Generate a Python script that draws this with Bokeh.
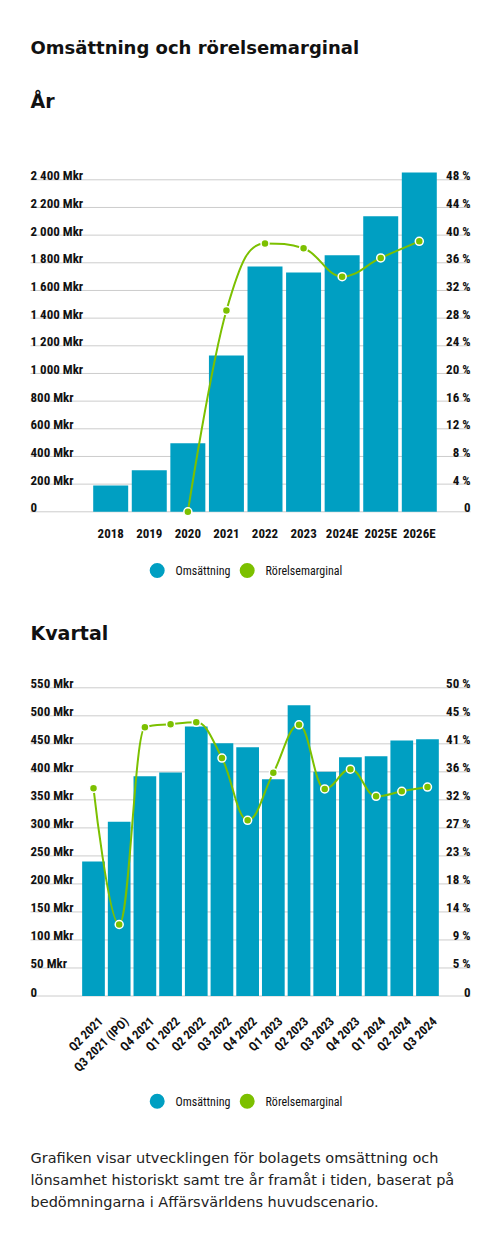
import math

from bokeh.core.properties import value
from bokeh.embed import file_html
from bokeh.models import Range1d
from bokeh.plotting import figure
from bokeh.resources import INLINE

# ---------------------------------------------------------------- data
years = ["2018", "2019", "2020", "2021", "2022", "2023", "2024E", "2025E", "2026E"]
revenue_year = [190, 300, 495, 1130, 1773, 1730, 1854, 2136, 2452]          # Mkr
margin_year = [None, None, 0.0, 29.1, 38.8, 38.1, 34.0, 36.7, 39.1]         # %

year_rev_ticks = [0, 200, 400, 600, 800, 1000, 1200, 1400, 1600, 1800, 2000, 2200, 2400]
year_rev_labels = ["0", "200 Mkr", "400 Mkr", "600 Mkr", "800 Mkr", "1 000 Mkr", "1 200 Mkr",
                   "1 400 Mkr", "1 600 Mkr", "1 800 Mkr", "2 000 Mkr", "2 200 Mkr", "2 400 Mkr"]
year_margin_labels = ["0", "4 %", "8 %", "12 %", "16 %", "20 %", "24 %", "28 %", "32 %",
                      "36 %", "40 %", "44 %", "48 %"]
year_rev_max = 2400
year_margin_max = 48

quarters = ["Q2 2021", "Q3 2021 (IPO)", "Q4 2021", "Q1 2022", "Q2 2022", "Q3 2022", "Q4 2022",
            "Q1 2023", "Q2 2023", "Q3 2023", "Q4 2023", "Q1 2024", "Q2 2024", "Q3 2024"]
revenue_quarter = [240, 311, 392, 399, 481, 451, 444, 387, 519, 400, 426, 428, 456, 458]   # Mkr
margin_quarter = [33.7, 11.6, 43.6, 44.1, 44.4, 38.6, 28.5, 36.2, 44.0, 33.6, 36.8, 32.4, 33.2, 33.9]

q_rev_ticks = [0, 50, 100, 150, 200, 250, 300, 350, 400, 450, 500, 550]
q_rev_labels = ["0", "50 Mkr", "100 Mkr", "150 Mkr", "200 Mkr", "250 Mkr", "300 Mkr",
                "350 Mkr", "400 Mkr", "450 Mkr", "500 Mkr", "550 Mkr"]
q_margin_labels = ["0", "5 %", "9 %", "14 %", "18 %", "23 %", "27 %", "32 %", "36 %",
                   "41 %", "45 %", "50 %"]
q_rev_max = 550
q_margin_max = 50

series_names = ["Omsättning", "Rörelsemarginal"]
title = "Omsättning och rörelsemarginal"
subtitle_year = "År"
subtitle_quarter = "Kvartal"
note_lines = [
    "Grafiken visar utvecklingen för bolagets omsättning och",
    "lönsamhet historiskt samt tre år framåt i tiden, baserat på",
    "bedömningarna i Affärsvärldens huvudscenario.",
]

# ---------------------------------------------------------------- style / layout
W, H = 500, 1238
BLUE = "#009FC2"
GREEN = "#7CC000"
GRID = "#cccccc"
INK = "#111111"
COND = value("Roboto Condensed, Liberation Sans Narrow, Roboto")
SANS = value("DejaVu Sans")

GRID_L, GRID_R = 30, 470

# yearly panel: first bar centre, bar step, baseline and top gridline (page px)
Y1_C0, Y1_STEP, Y1_BASE, Y1_TOP = 110.2, 38.575, 511.3, 179.3
# quarterly panel
Q_C0, Q_STEP, Q_BASE, Q_TOP = 93.0, 25.69, 995.5, 687.3


def x_range_for(c0, step):
    return Range1d(start=-c0 / step, end=(W - c0) / step)


def y_range_for(base, top, vmax):
    k = (base - top) / vmax
    return Range1d(start=(base - H) / k, end=base / k)


def spline(xs, ys, smoothing=1.5):
    """Cubic bezier pieces of a smoothed line through the points."""
    n = len(xs)
    left = [(xs[i], ys[i]) for i in range(n)]
    right = [(xs[i], ys[i]) for i in range(n)]
    d = smoothing + 1
    for i in range(1, n - 1):
        lx, ly = xs[i - 1], ys[i - 1]
        px, py = xs[i], ys[i]
        nx, ny = xs[i + 1], ys[i + 1]
        lcx, lcy = (smoothing * px + lx) / d, (smoothing * py + ly) / d
        rcx, rcy = (smoothing * px + nx) / d, (smoothing * py + ny) / d
        if rcx != lcx:
            corr = ((rcy - lcy) * (rcx - px)) / (rcx - lcx) + py - rcy
            lcy += corr
            rcy += corr
        if lcy > ly and lcy > py:
            lcy = max(ly, py)
            rcy = 2 * py - lcy
        elif lcy < ly and lcy < py:
            lcy = min(ly, py)
            rcy = 2 * py - lcy
        if rcy > ny and rcy > py:
            rcy = max(ny, py)
            lcy = 2 * py - rcy
        elif rcy < ny and rcy < py:
            rcy = min(ny, py)
            lcy = 2 * py - rcy
        left[i] = (lcx, lcy)
        right[i] = (rcx, rcy)
    seg = dict(x0=[], y0=[], x1=[], y1=[], cx0=[], cy0=[], cx1=[], cy1=[])
    for i in range(1, n):
        seg["x0"].append(xs[i - 1]); seg["y0"].append(ys[i - 1])
        seg["x1"].append(xs[i]); seg["y1"].append(ys[i])
        seg["cx0"].append(right[i - 1][0]); seg["cy0"].append(right[i - 1][1])
        seg["cx1"].append(left[i][0]); seg["cy1"].append(left[i][1])
    return seg


p = figure(width=W, height=H, x_range=Range1d(0, W), y_range=Range1d(H, 0),
           x_axis_type=None, y_axis_type=None, output_backend="svg",
           toolbar_location=None, min_border=0, outline_line_color=None,
           background_fill_color="white", border_fill_color="white")

p.extra_x_ranges = {
    "yr": x_range_for(Y1_C0, Y1_STEP),
    "q": x_range_for(Q_C0, Q_STEP),
}
p.extra_y_ranges = {
    "yrev": y_range_for(Y1_BASE, Y1_TOP, year_rev_max),
    "ymar": y_range_for(Y1_BASE, Y1_TOP, year_margin_max),
    "qrev": y_range_for(Q_BASE, Q_TOP, q_rev_max),
    "qmar": y_range_for(Q_BASE, Q_TOP, q_margin_max),
}

# ---------------------------------------------------------------- headings
p.text(x=30, y=47, text=[title], text_font=SANS, text_font_style="bold",
       text_font_size="18px", text_color=INK, text_baseline="alphabetic")
p.text(x=30, y=100, text=[subtitle_year], text_font=SANS, text_font_style="bold",
       text_font_size="19px", text_color=INK, text_baseline="alphabetic")
p.text(x=30, y=632, text=[subtitle_quarter], text_font=SANS, text_font_style="bold",
       text_font_size="19px", text_color=INK, text_baseline="alphabetic")


def panel(xr, yr, mr, ticks, left_labels, right_labels, cats, revenue, margin,
          bar_width, legend_y, rotated):
    # gridlines
    p.segment(x0=GRID_L, x1=GRID_R, y0=ticks, y1=ticks, y_range_name=yr,
              line_color=GRID, line_width=1)
    # axis labels sitting on top of the gridlines
    p.text(x=GRID_L, y=ticks, text=left_labels, y_range_name=yr, y_offset=-4,
           text_font=COND, text_font_style="bold", text_font_size="13px",
           text_color=INK, text_align="left", text_baseline="alphabetic")
    p.text(x=GRID_R, y=ticks, text=right_labels, y_range_name=yr, y_offset=-4,
           text_font=COND, text_font_style="bold", text_font_size="13px",
           text_color=INK, text_align="right", text_baseline="alphabetic")

    idx = list(range(len(cats)))
    p.vbar(x=idx, top=revenue, bottom=0, width=bar_width, x_range_name=xr,
           y_range_name=yr, fill_color=BLUE, line_color=None)

    pts = [(i, m) for i, m in zip(idx, margin) if m is not None]
    mx = [a for a, _ in pts]
    my = [b for _, b in pts]
    p.bezier(**spline(mx, my), x_range_name=xr, y_range_name=mr,
             line_color=GREEN, line_width=2)
    p.scatter(x=mx, y=my, x_range_name=xr, y_range_name=mr, size=8,
              fill_color=GREEN, line_color="white", line_width=1.5)

    if rotated:
        p.text(x=idx, y=0, text=cats, x_range_name=xr, y_range_name=yr,
               angle=math.pi / 4, x_offset=7, y_offset=23,
               text_font=COND, text_font_style="bold", text_font_size="12.5px",
               text_color=INK, text_align="right", text_baseline="alphabetic")
    else:
        p.text(x=idx, y=0, text=cats, x_range_name=xr, y_range_name=yr,
               y_offset=22, text_font=COND, text_font_style="bold",
               text_font_size="13px", text_color=INK, text_align="center",
               text_baseline="alphabetic")

    # legend
    p.scatter(x=[156.7, 246.7], y=[legend_y, legend_y], size=15,
              fill_color=[BLUE, GREEN], line_color=None)
    p.text(x=[175, 265], y=[legend_y + 0.5] * 2, text=series_names,
           text_font=COND, text_font_size="12px", text_color=INK,
           text_align="left", text_baseline="middle")


panel("yr", "yrev", "ymar", year_rev_ticks, year_rev_labels, year_margin_labels,
      years, revenue_year, margin_year, 0.907, 570, False)
panel("q", "qrev", "qmar", q_rev_ticks, q_rev_labels, q_margin_labels,
      quarters, revenue_quarter, margin_quarter, 0.884, 1100.7, True)

# ---------------------------------------------------------------- footnote
p.text(x=30, y=[1157, 1179, 1201], text=note_lines, text_font=SANS,
       text_font_size="14.5px", text_color="#222222", text_baseline="alphabetic")

open("out.html", "w").write(file_html(p, INLINE))
